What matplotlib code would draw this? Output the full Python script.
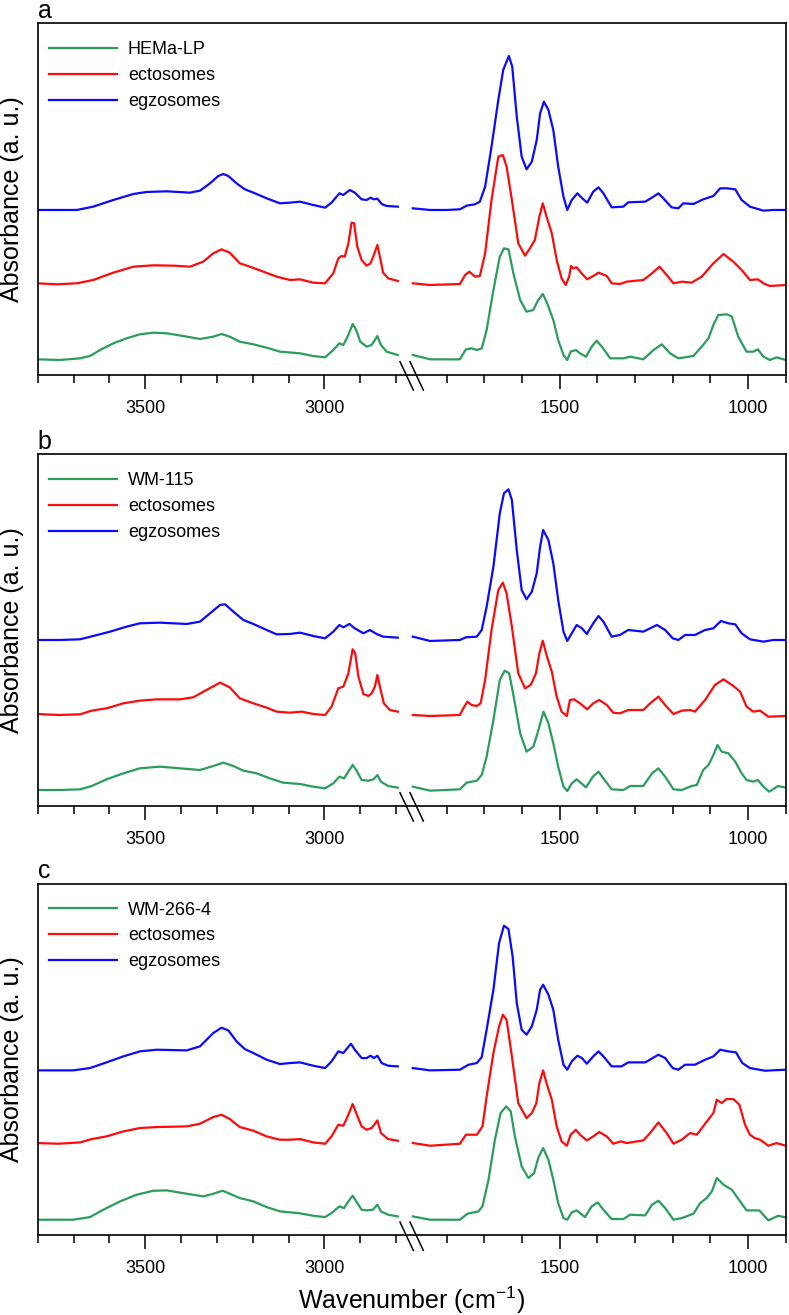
import numpy as np
import matplotlib
matplotlib.use("Agg")
import matplotlib.pyplot as plt
from matplotlib.ticker import FixedLocator, FuncFormatter, NullFormatter

plt.rcParams['font.family'] = ['Liberation Sans', 'DejaVu Sans']
plt.rcParams['mathtext.default'] = 'regular'

# ---------------- data (wavenumber, absorbance a.u.) ----------------
# Panel a
a_green_wn = [3800,3738,3682,3654,3626,3589,3552,3515,3477,3440,3394,3347,3310,3287,3264,3236,3198,3161,3124,3068,3031,2998,2975,2958,2947,2933,2921,2911,2900,2882,2868,2859,2852,2842,2826,2794,
              1891,1844,1765,1749,1734,1720,1707,1694,1676,1659,1648,1636,1623,1605,1588,1570,1557,1545,1535,1517,1504,1490,1480,1471,1457,1446,1430,1415,1402,1388,1366,1331,1313,1278,1251,1229,1207,1185,1145,1123,1105,1092,1079,1056,1043,1026,1004,986,974,959,942,924,900]
a_green_ab = [47,45,50,57,75,95,110,122,127,125,117,108,115,123,115,100,92,82,70,65,57,53,75,95,90,120,153,135,100,85,90,105,117,90,70,60,
              60,47,47,77,80,75,80,135,255,355,380,377,305,225,190,195,225,243,220,165,105,60,45,70,75,65,55,85,103,85,50,50,55,47,75,92,65,50,57,85,110,150,180,182,175,115,70,70,77,55,45,53,45]
a_red_wn = [3800,3747,3691,3645,3589,3533,3477,3421,3375,3338,3310,3287,3264,3236,3208,3170,3133,3096,3068,3031,2998,2975,2961,2952,2943,2933,2924,2917,2908,2896,2882,2871,2862,2852,2845,2836,2822,2794,
            1891,1844,1765,1751,1740,1725,1712,1698,1681,1663,1651,1641,1627,1610,1592,1579,1566,1554,1545,1535,1521,1508,1495,1484,1475,1470,1464,1455,1442,1427,1411,1397,1375,1362,1340,1322,1278,1255,1235,1216,1198,1176,1150,1123,1092,1065,1039,1017,995,974,959,942,900]
a_red_ab = [275,272,275,285,307,325,329,328,325,340,365,377,367,335,325,310,295,285,287,277,275,305,350,357,355,395,457,455,385,345,328,335,360,390,355,307,290,282,
            275,270,273,300,310,295,297,365,525,655,660,625,525,395,358,380,405,475,515,475,425,345,290,270,295,327,320,323,305,287,297,307,297,275,273,280,285,305,325,300,275,280,277,295,335,363,340,315,285,287,275,267,270]
a_blue_wn = [3800,3691,3645,3589,3533,3496,3440,3375,3347,3319,3296,3282,3268,3245,3222,3198,3161,3124,3096,3068,3031,2998,2980,2958,2947,2929,2915,2896,2882,2871,2862,2852,2840,2826,2794,
             1891,1844,1800,1765,1747,1725,1712,1698,1681,1663,1650,1635,1626,1614,1601,1588,1574,1561,1552,1542,1530,1517,1504,1490,1480,1468,1453,1440,1427,1411,1397,1384,1362,1331,1318,1273,1251,1238,1225,1203,1185,1172,1145,1119,1092,1074,1056,1034,1017,995,959,933,900]
a_blue_ab = [495,495,505,525,543,549,551,547,553,575,597,603,597,575,557,547,530,515,517,520,510,502,517,545,540,555,547,527,525,532,527,529,513,507,505,
             500,495,495,497,508,512,520,565,685,825,915,957,925,775,655,617,640,705,785,820,795,735,625,535,495,525,545,530,517,550,563,545,503,505,518,520,535,545,530,503,500,515,513,527,537,560,560,557,525,505,493,495,495]

# Panel b
b_green_wn = [3800,3738,3682,3649,3608,3561,3515,3459,3403,3347,3310,3282,3254,3226,3189,3152,3115,3068,3031,2998,2975,2958,2945,2933,2921,2911,2896,2877,2863,2852,2842,2822,2794,
              1891,1844,1765,1747,1720,1707,1694,1676,1659,1646,1634,1623,1605,1588,1570,1559,1543,1530,1517,1504,1490,1480,1468,1455,1430,1412,1397,1384,1362,1331,1313,1278,1255,1238,1220,1198,1176,1150,1136,1119,1105,1092,1081,1070,1052,1034,1017,1004,986,974,959,944,920,900]
b_green_ab = [48,48,50,60,80,98,113,118,113,108,120,130,120,106,98,83,70,66,58,53,68,88,83,103,123,108,78,76,80,93,73,60,55,
              58,46,50,70,76,93,148,258,378,406,398,333,218,163,178,218,283,248,188,118,58,45,68,80,56,88,103,83,50,48,60,60,98,113,88,50,48,60,63,108,123,153,183,163,158,133,98,78,73,78,58,43,60,55]
b_red_wn = [3800,3742,3682,3649,3608,3561,3515,3468,3403,3366,3329,3291,3264,3236,3198,3161,3133,3096,3063,3031,2998,2980,2961,2947,2933,2921,2914,2905,2891,2877,2868,2859,2852,2845,2834,2817,2794,
            1891,1844,1765,1756,1745,1734,1720,1710,1698,1681,1663,1651,1641,1627,1610,1592,1577,1563,1554,1545,1535,1521,1508,1495,1481,1473,1462,1446,1427,1411,1395,1375,1358,1340,1318,1278,1260,1238,1218,1198,1176,1154,1141,1114,1088,1065,1039,1021,1004,986,968,946,900]
b_red_ab = [276,273,275,286,293,308,316,320,320,326,348,370,356,323,308,295,283,280,283,276,273,298,353,358,398,470,458,388,336,330,338,358,393,358,308,288,283,
            273,270,273,293,313,303,300,308,378,528,648,670,638,538,398,353,363,398,458,496,453,403,328,283,270,318,320,308,290,308,318,303,280,278,288,288,308,328,300,276,286,288,283,318,363,380,360,343,298,283,286,268,270]
b_blue_wn = [3800,3738,3682,3645,3598,3552,3515,3459,3384,3347,3319,3291,3277,3254,3226,3198,3161,3133,3096,3068,3031,2998,2975,2958,2947,2930,2915,2891,2873,2854,2836,2794,
             1891,1844,1765,1749,1720,1707,1694,1676,1659,1648,1636,1627,1614,1601,1588,1574,1561,1552,1544,1530,1517,1504,1490,1480,1468,1455,1441,1428,1411,1397,1384,1362,1340,1318,1278,1242,1220,1200,1185,1167,1141,1114,1092,1072,1052,1034,1017,995,959,933,900]
b_blue_ab = [498,498,500,510,523,538,548,550,546,553,578,603,605,583,558,546,528,515,516,520,510,503,523,543,536,546,533,518,528,516,508,505,
             508,495,498,506,508,528,598,718,878,938,950,918,768,648,620,643,698,778,828,798,728,618,523,495,518,543,533,516,548,570,553,508,513,528,523,543,528,503,498,513,513,528,533,555,548,545,518,500,493,498,498]

# Panel c
c_green_wn = [3800,3701,3654,3617,3570,3524,3477,3440,3384,3338,3310,3284,3264,3236,3198,3161,3124,3073,3031,2998,2980,2958,2945,2933,2921,2911,2896,2882,2865,2852,2842,2822,2794,
              1891,1844,1765,1745,1716,1705,1689,1672,1657,1642,1630,1619,1601,1583,1568,1557,1544,1530,1517,1504,1490,1480,1468,1455,1433,1415,1399,1384,1362,1331,1313,1273,1255,1238,1220,1198,1176,1145,1127,1110,1096,1083,1065,1043,1021,1004,970,946,920,900]
c_green_ab = [47,47,55,77,102,122,134,135,125,117,125,134,125,112,102,85,72,67,59,55,67,87,82,102,119,102,77,75,77,92,72,62,57,
              57,47,47,65,72,87,167,287,367,387,372,297,207,172,187,232,262,227,167,97,52,47,69,75,55,87,99,77,49,49,62,60,92,104,82,47,52,65,97,112,132,172,152,137,102,75,75,45,59,54]
c_red_wn = [3800,3742,3682,3649,3608,3561,3515,3468,3384,3347,3310,3287,3264,3236,3198,3161,3124,3096,3068,3031,2998,2980,2961,2947,2933,2921,2911,2896,2882,2868,2859,2852,2842,2822,2794,
            1891,1844,1765,1749,1720,1705,1694,1676,1661,1651,1641,1627,1610,1588,1574,1562,1554,1544,1535,1521,1508,1495,1481,1471,1457,1446,1428,1411,1395,1375,1358,1338,1322,1278,1260,1238,1216,1198,1176,1154,1136,1114,1092,1083,1070,1057,1039,1023,1008,995,982,968,946,924,900]
c_red_ab = [277,275,279,289,297,312,322,325,327,335,355,362,349,325,314,297,287,287,289,279,275,297,332,329,362,394,367,327,317,322,335,345,307,289,284,
            277,269,275,302,302,327,417,547,627,662,647,537,397,352,367,397,457,495,457,407,327,282,269,302,317,302,285,297,310,297,275,282,277,285,307,339,307,275,287,307,302,335,367,407,397,409,409,392,332,302,292,287,269,277,269]
c_blue_wn = [3800,3701,3654,3608,3561,3515,3468,3384,3347,3310,3287,3268,3245,3222,3198,3161,3124,3096,3068,3031,2998,2980,2961,2947,2926,2915,2896,2882,2871,2862,2852,2840,2822,2794,
             1891,1844,1765,1742,1720,1707,1694,1676,1661,1648,1636,1625,1614,1601,1588,1574,1561,1552,1544,1530,1517,1504,1490,1480,1468,1453,1441,1428,1411,1397,1384,1362,1336,1318,1273,1238,1220,1200,1185,1167,1141,1114,1092,1074,1052,1032,1015,995,955,900]
c_blue_ab = [495,495,502,519,537,552,557,555,567,607,623,615,582,559,547,527,514,517,519,509,502,522,552,547,575,557,532,532,539,532,539,517,509,507,
             502,495,497,512,517,535,617,737,877,929,919,837,697,617,602,627,677,737,752,722,677,587,512,497,522,539,532,515,537,552,537,507,507,519,519,542,532,502,497,512,512,527,537,557,552,549,517,502,494,497]

panel_letters = ['a', 'b', 'c']
sample_names = ['HEMa-LP', 'WM-115', 'WM-266-4']
vesicle_names = ['ectosomes', 'egzosomes']
major_ticks = [3500, 3000, 1500, 1000]
minor_ticks = [3800, 3700, 3600, 3400, 3300, 3200, 3100, 2900, 2800,
               1800, 1700, 1600, 1400, 1300, 1200, 1100, 900]

panels = [
    [(a_green_wn, a_green_ab), (a_red_wn, a_red_ab), (a_blue_wn, a_blue_ab)],
    [(b_green_wn, b_green_ab), (b_red_wn, b_red_ab), (b_blue_wn, b_blue_ab)],
    [(c_green_wn, c_green_ab), (c_red_wn, c_red_ab), (c_blue_wn, c_blue_ab)],
]
colors = ['#2a9d5c', '#ff0a0a', '#0a0aff']

# ---------------- broken-axis scale ----------------
W_KNOTS = np.array([900.0, 1890.0, 2795.0, 3800.0])
P_KNOTS = np.array([0.0, 372.9, 387.9, 748.0])
S_R, S_L = 0.3767, 0.3583


def fwd(w):
    w = np.asarray(w, dtype=float)
    out = np.interp(w, W_KNOTS, P_KNOTS)
    out = np.where(w < W_KNOTS[0], P_KNOTS[0] + (w - W_KNOTS[0]) * S_R, out)
    out = np.where(w > W_KNOTS[-1], P_KNOTS[-1] + (w - W_KNOTS[-1]) * S_L, out)
    return out


def inv(p):
    p = np.asarray(p, dtype=float)
    out = np.interp(p, P_KNOTS, W_KNOTS)
    out = np.where(p < P_KNOTS[0], W_KNOTS[0] + (p - P_KNOTS[0]) / S_R, out)
    out = np.where(p > P_KNOTS[-1], W_KNOTS[-1] + (p - P_KNOTS[-1]) / S_L, out)
    return out


W, H = 789, 1315
fig = plt.figure(figsize=(W / 100, H / 100), dpi=100)

ax_left, ax_right = 37.7, 785.7
tops = [23.3, 454.3, 883.7]
ax_h = 351.7

for k, (series, top) in enumerate(zip(panels, tops)):
    ax = fig.add_axes([ax_left / W, 1 - (top + ax_h) / H, (ax_right - ax_left) / W, ax_h / H])
    ax.set_xscale('function', functions=(fwd, inv))
    labels = [sample_names[k]] + vesicle_names
    for (wn, ab), col, lab in zip(series, colors, labels):
        wn = np.asarray(wn, float)
        ab = np.asarray(ab, float)
        cut = np.where(-np.diff(wn) > 500)[0][0] + 1
        ax.plot(wn[:cut], ab[:cut], color=col, lw=1.6, label=lab, solid_joinstyle='round')
        ax.plot(wn[cut:], ab[cut:], color=col, lw=1.6, solid_joinstyle='round')
    ax.set_xlim(3800, 900)
    ax.set_ylim(0, 1055)
    ax.set_yticks([])
    ax.xaxis.set_major_locator(FixedLocator(major_ticks))
    ax.xaxis.set_minor_locator(FixedLocator(minor_ticks))
    ax.xaxis.set_major_formatter(FuncFormatter(lambda v, p: f"{v:.0f}"))
    ax.xaxis.set_minor_formatter(NullFormatter())
    ax.tick_params(axis='x', which='major', direction='out', length=10, width=1.1,
                   labelsize=13, pad=8)
    ax.tick_params(axis='x', which='minor', direction='out', length=5.5, width=1.1)
    for sp in ax.spines.values():
        sp.set_linewidth(1.2)
    # break marks on the bottom axis
    span = ax_right - ax_left
    for dx in (0.0, 10.0):
        x0 = (362.3 + dx) / span
        x1 = (375.6 + dx) / span
        ax.plot([x0, x1], [13.3 / ax_h, -15.0 / ax_h], transform=ax.transAxes,
                color='black', lw=1.1, clip_on=False)
    ax.legend(loc='upper left', bbox_to_anchor=(0.015, 0.949), frameon=False, fontsize=13,
              handlelength=3.77, handletextpad=0.6, labelspacing=0.49,
              borderpad=0, borderaxespad=0)
    fig.text(ax_left / W, 1 - (top - 5.5) / H, panel_letters[k], fontsize=18,
             ha='left', va='baseline')
    fig.text(12.5 / W, 1 - (top + ax_h / 2) / H, 'Absorbance (a. u.)', rotation=90,
             ha='center', va='center', fontsize=18)

fig.text((ax_left + ax_right) / 2 / W, 1 - 1300 / H, 'Wavenumber (cm$^{-1}$)',
         ha='center', va='center', fontsize=18)

fig.savefig('out.png', dpi=100)
